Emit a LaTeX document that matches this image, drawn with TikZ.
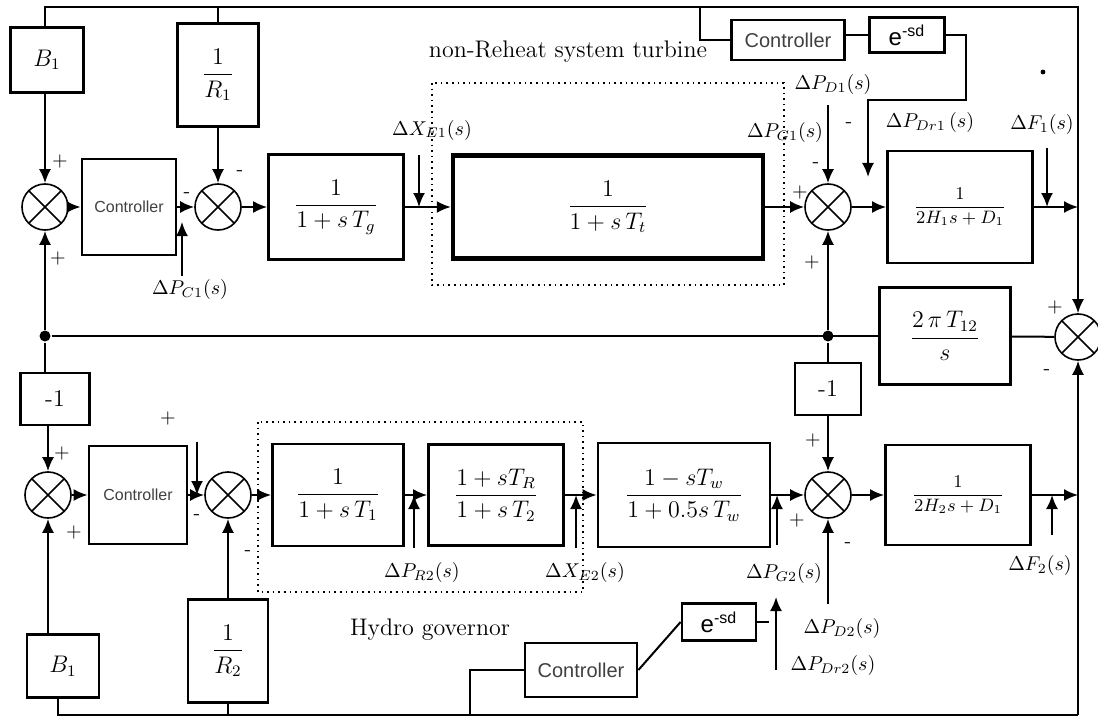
\documentclass[tikz,border=0pt]{standalone}
\usepackage{fontspec}
\setsansfont{Liberation Sans}
\usepackage{amsmath}
\usetikzlibrary{positioning,calc,arrows.meta}

\begin{document}
\begin{tikzpicture}[x=0.5pt,y=-0.5pt,>={Latex[length=7pt,width=6pt]},line width=1pt,
  every node/.style={font=\normalsize,inner sep=1pt},
  blk/.style={draw,line width=1.4pt,font=\large},
  ctl/.style={draw,line width=1.4pt,font=\sffamily\color{black!75}},
  sumj/.style={draw,circle,line width=0.8pt,minimum size=23pt,inner sep=0pt,
    path picture={\draw[line width=0.8pt]
      (path picture bounding box.north west) -- (path picture bounding box.south east)
      (path picture bounding box.north east) -- (path picture bounding box.south west);}},
  dot/.style={circle,fill,inner sep=0pt,minimum size=5.5pt},
  sgn/.style={font=\normalsize}]
\useasboundingbox (0,0) rectangle (1098,717);
% area 1
\node[blk,minimum width=36.5pt,minimum height=32.5pt] (B1a) at (47,60) {$B_1$};
\node[blk,minimum width=40.5pt,minimum height=51.5pt] (R1) at (218,75) {$\dfrac{1}{R_1}$};
\node[ctl,font=\sffamily\footnotesize\color{black!75},minimum width=47pt,minimum height=48pt] (C1) at (129,207) {Controller};
\node[blk,minimum width=67.5pt,minimum height=52.5pt] (Tg) at (336,207) {$\dfrac{1}{1+s\,T_g}$};
\node[blk,line width=2.2pt,minimum width=155pt,minimum height=51.5pt] (Tt) at (608,207) {$\dfrac{1}{1+s\,T_t}$};
\node[blk,minimum width=72.5pt,minimum height=56pt] (H1) at (960,207) {\small$\dfrac{1}{2H_1s+D_1}$};
\node[ctl,minimum width=56.5pt,minimum height=20pt] (CT) at (788,40) {Controller};
\node[blk,font=\sffamily\large,minimum width=37.5pt,minimum height=17.5pt] (E1) at (907,35) {e\textsuperscript{-sd}};
\node[blk,minimum width=65.5pt,minimum height=48.5pt] (T12) at (945,336) {$\dfrac{2\,\pi\,T_{12}}{s}$};
\node[sumj] (S1) at (45,207) {};
\node[sumj] (S2) at (218,207) {};
\node[sumj] (S3) at (828,207) {};
\node[sumj] (S4) at (1078,337) {};
\node[dot] (j1) at (45,336) {};
\node[dot] (j2) at (828,336) {};
% area 2
\node[blk,minimum width=34.5pt,minimum height=26pt] (M1) at (55,399) {-1};
\node[ctl,font=\sffamily\footnotesize\color{black!75},minimum width=49pt,minimum height=49pt] (C2) at (138,495) {Controller};
\node[blk,minimum width=40pt,minimum height=51.5pt] (R2) at (228,651) {$\dfrac{1}{R_2}$};
\node[blk,minimum width=36pt,minimum height=31.5pt] (B1b) at (63,666) {$B_1$};
\node[blk,minimum width=65.5pt,minimum height=51pt] (T1) at (338,495) {$\dfrac{1}{1+s\,T_1}$};
\node[blk,minimum width=67.5pt,minimum height=50.5pt] (T2) at (496,495) {$\dfrac{1+sT_R}{1+s\,T_2}$};
\node[blk,minimum width=86pt,minimum height=52pt] (Tw) at (684,495) {$\dfrac{1-sT_w}{1+0.5s\,T_w}$};
\node[blk,minimum width=33pt,minimum height=26pt] (M2) at (828,389) {-1};
\node[blk,minimum width=72.5pt,minimum height=50pt] (H2) at (958,495) {\small$\dfrac{1}{2H_2s+D_1}$};
\node[ctl,minimum width=56pt,minimum height=27pt] (C3) at (581,670) {Controller};
\node[blk,font=\sffamily\large,minimum width=37pt,minimum height=18.5pt] (E2) at (719,622) {e\textsuperscript{-sd}};
\node[sumj] (S5) at (48,495) {};
\node[sumj] (S6) at (228,495) {};
\node[sumj] (S7) at (828,495) {};
% labels
\node (tt) at (568,52) {\large non-Reheat system turbine};
\node (hg) at (430,630) {\large Hydro governor};
\node (lxe1) at (432,130) {$\Delta X_{E1}(s)$};
\node (lpg1) at (785,133) {$\Delta P_{G1}(s)$};
\node (lpd1) at (833,85) {$\Delta P_{D1}(s)$};
\node (lpdr1) at (930,123) {$\Delta P_{Dr1}\,(s)$};
\node (lf1) at (1042,125) {$\Delta F_1(s)$};
\node (lpc1) at (190,289) {$\Delta P_{C1}(s)$};
\node (lpr2) at (422,572) {$\Delta P_{R2}(s)$};
\node (lxe2) at (585,572) {$\Delta X_{E2}(s)$};
\node (lpg2) at (784,573) {$\Delta P_{G2}(s)$};
\node (lf2) at (1040,565) {$\Delta F_2(s)$};
\node (lpd2) at (842,628) {$\Delta P_{D2}(s)$};
\node (lpdr2) at (833,665) {$\Delta P_{Dr2}(s)$};
\foreach \x/\y/\s [count=\i] in {60/162/+,58/258/+,187/195/-,240/173/-,800/193/+,816/165/-,
  849/125/-,812/262/+,1055/307/+,1047/372/-,62/453/+,74/532/+,168/418/+,197/517/-,
  248/553/-,813/440/+,797/520/+,848/545/-}
  \node[sgn] (sg\i) at (\x,\y) {\s};
\fill (1043,72) circle (1.2pt);
\draw[dotted,line width=0.8pt] (432,83) rectangle (784,285);
\draw[dotted,line width=0.8pt] (258,422) rectangle (583,592);
% bus lines
\coordinate (tp) at (1078,7);
\coordinate (br) at (1078,715);
\coordinate (bl) at (58,715);
\coordinate (cb) at (700,7);
\coordinate (cb2) at (470,715);
\coordinate (dr1) at (868,177);
\coordinate (pc1) at (182,222);
\coordinate (xe1) at (419,155);
\coordinate (f1) at (1047,148);
\coordinate (p6) at (197,442);
\coordinate (pr2) at (414,548);
\coordinate (xe2) at (576,548);
\coordinate (pg2) at (777,545);
\coordinate (f2) at (1052,535);
\coordinate (dr2) at (776,670);
% connectors
\draw[->] (B1a.north -| S1) |- (tp) -- (S4);
\draw[->] (S1.north |- B1a.south) -- (S1);
\draw (R1) -- (R1 |- tp);
\draw[->] (R1) -- (S2);
\draw (cb) |- (CT.west);
\draw (E1.west -| CT.east) -- (E1.west);
\draw[->] (E1.east) -- ++(20,0) -- ++(0,65) -| (dr1);
\draw[->] (S1) -- (C1);
\draw[->] (C1) -- (S2);
\draw[->] (lpc1.north -| pc1) -- (pc1);
\draw[->] (S2) -- (Tg);
\draw[->] (Tg) -- (Tt);
\draw[->] (xe1) -- (xe1 |- Tg.east);
\draw[->] (Tt) -- (S3);
\draw[->] (S3.north) ++(0,-78) -- (S3.north);
\draw[->] (S3) -- (H1);
\draw[->] (H1) -- (H1.east -| S4);
\draw[->] (f1) -- (f1 |- H1.east);
\draw[->] (j1) -- (S1);
\draw (j1) -- (T12);
\draw[->] (j2) -- (S3);
\draw (j2) -- (M2);
\draw (T12) -- (S4);
\draw[->] (br) -- (S4);
\draw (j1) -- (j1 |- M1.north);
\draw[->] (S5 |- M1.south) -- (S5);
\draw[->] (S5 |- B1b.north) -- (S5);
\draw (bl |- B1b.south) -- (bl) -- (br);
\draw (R2) -- (R2 |- br);
\draw[->] (R2) -- (S6);
\draw[->] (S5) -- (C2);
\draw[->] (C2) -- (S6);
\draw[->] (p6) -- (p6 |- S6);
\draw[->] (S6) -- (T1);
\draw[->] (T1) -- (T2);
\draw[->] (pr2) -- (pr2 |- T1);
\draw[->] (T2) -- (Tw);
\draw[->] (xe2) -- (xe2 |- T2);
\draw[->] (Tw) -- (S7);
\draw[->] (pg2) -- (pg2 |- Tw);
\draw[->] (M2) -- (S7);
\draw[->] (S7.south) ++(0,85) -- (S7.south);
\draw[->] (S7) -- (H2);
\draw[->] (H2) -- (H2.east -| br);
\draw[->] (f2) -- (f2 |- H2);
\draw (C3.west) -| (cb2);
\draw (C3.east) -- (E2.west);
\draw (E2.east) -- ++(12,0);
\draw[->] (dr2) -- ++(0,-73);
\end{tikzpicture}
\end{document}
